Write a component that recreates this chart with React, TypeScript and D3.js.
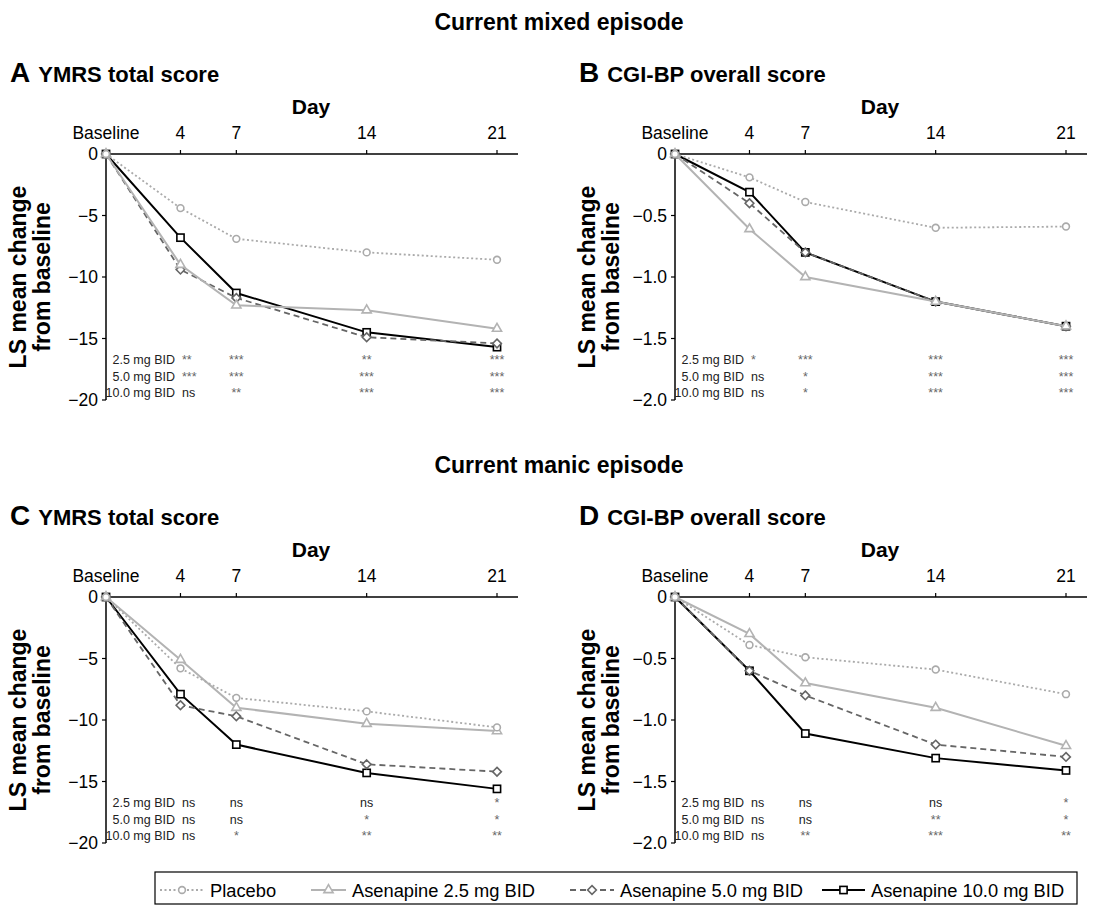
import * as d3 from "d3";

// days on the x axis, baseline = day 0
const days = [0, 4, 7, 14, 21];
const dayLabels = ["Baseline", "4", "7", "14", "21"];
const doseLabels = ["2.5 mg BID", "5.0 mg BID", "10.0 mg BID"];
const seriesNames = ["Placebo", "Asenapine 2.5 mg BID", "Asenapine 5.0 mg BID", "Asenapine 10.0 mg BID"];

// LS mean change, order: placebo, 2.5, 5.0, 10.0
const mixedYmrs = [
  [0, -4.4, -6.9, -8.0, -8.6],
  [0, -9.0, -12.3, -12.7, -14.2],
  [0, -9.4, -11.7, -14.9, -15.4],
  [0, -6.8, -11.3, -14.5, -15.7],
];
const mixedCgi = [
  [0, -0.19, -0.39, -0.6, -0.59],
  [0, -0.61, -1.0, -1.2, -1.4],
  [0, -0.4, -0.8, -1.2, -1.4],
  [0, -0.31, -0.8, -1.2, -1.4],
];
const manicYmrs = [
  [0, -5.8, -8.2, -9.3, -10.6],
  [0, -5.1, -9.0, -10.3, -10.9],
  [0, -8.8, -9.7, -13.6, -14.2],
  [0, -7.9, -12.0, -14.3, -15.6],
];
const manicCgi = [
  [0, -0.39, -0.49, -0.59, -0.79],
  [0, -0.3, -0.7, -0.9, -1.21],
  [0, -0.6, -0.8, -1.2, -1.3],
  [0, -0.6, -1.11, -1.31, -1.41],
];

// significance vs placebo at day 4, 7, 14, 21
const mixedYmrsSig = [
  ["**", "***", "**", "***"],
  ["***", "***", "***", "***"],
  ["ns", "**", "***", "***"],
];
const mixedCgiSig = [
  ["*", "***", "***", "***"],
  ["ns", "*", "***", "***"],
  ["ns", "*", "***", "***"],
];
const manicYmrsSig = [
  ["ns", "ns", "ns", "*"],
  ["ns", "ns", "*", "*"],
  ["ns", "*", "**", "**"],
];
const manicCgiSig = [
  ["ns", "ns", "ns", "*"],
  ["ns", "ns", "**", "*"],
  ["ns", "**", "***", "**"],
];

const ymrsTicks = [0, -5, -10, -15, -20];
const cgiTicks = [0, -0.5, -1.0, -1.5, -2.0];

const font = "'Liberation Sans', Arial, sans-serif";
const W = 1118;
const H = 905;
const plotW = 391;
const plotH = 246;

const styles = [
  { color: "#aaaaaa", dash: "2,2.5", width: 1.8, marker: "circle" },
  { color: "#b3b3b3", dash: null, width: 2, marker: "triangle" },
  { color: "#666666", dash: "6,4", width: 1.8, marker: "diamond" },
  { color: "#000000", dash: null, width: 2, marker: "square" },
];

const fmtMinus = (v: number, digits: number) =>
  (v < 0 ? "\u2212" : "") + Math.abs(v).toFixed(digits);

function Marker({ kind, x, y, color }: { kind: string; x: number; y: number; color: string }) {
  if (kind === "circle")
    return <circle cx={x} cy={y} r={3.4} fill="#fff" stroke={color} strokeWidth={1.6} />;
  if (kind === "square")
    return <rect x={x - 3.6} y={y - 3.6} width={7.2} height={7.2} fill="#fff" stroke={color} strokeWidth={1.6} />;
  const sym = kind === "triangle" ? d3.symbolTriangle2 : d3.symbolDiamond2;
  const d = d3.symbol(sym, kind === "triangle" ? 60 : 48)() as string;
  return <path d={d} transform={`translate(${x},${y})`} fill="#fff" stroke={color} strokeWidth={1.6} />;
}

function Series({ vals, s, x, y }: any) {
  const pts = days.map((d, i) => [x(d), y(vals[i])] as [number, number]);
  const line = d3.line();
  return (
    <g>
      <path d={line(pts) as string} fill="none" stroke={s.color} strokeWidth={s.width}
        strokeDasharray={s.dash || undefined} />
      {pts.map((p, i) => (
        <Marker key={i} kind={s.marker} x={p[0]} y={p[1]} color={s.color} />
      ))}
    </g>
  );
}

function Panel({ x0, y0, letter, title, data, sig, ticks, digits }: any) {
  const x = d3.scaleLinear().domain([0, 21]).range([x0, x0 + plotW]);
  const y = d3.scaleLinear().domain([0, ticks[ticks.length - 1]]).range([y0, y0 + plotH]);
  const order = [3, 2, 1, 0];
  const sigCols = [7, 14, 21];
  return (
    <g fontFamily={font}>
      <text x={x0 - 96} y={y0 - 72} fontWeight="bold" fontSize={28}>
        {letter}
        <tspan dx={8} fontSize={22}>{title}</tspan>
      </text>
      <text x={x0 + 205} y={y0 - 40} textAnchor="middle" fontWeight="bold" fontSize={21}>Day</text>
      {days.map((d, i) => (
        <g key={i}>
          <line x1={x(d)} x2={x(d)} y1={y0} y2={y0 - 4} stroke="#000" strokeWidth={1.2} />
          <text x={x(d)} y={y0 - 15} textAnchor="middle" fontSize={17.5}>{dayLabels[i]}</text>
        </g>
      ))}
      <line x1={x0} x2={x0 + 412} y1={y0} y2={y0} stroke="#000" strokeWidth={1.5} />
      <line x1={x0} x2={x0} y1={y0} y2={y0 + plotH} stroke="#000" strokeWidth={1.5} />
      {ticks.map((t: number, i: number) => (
        <g key={i}>
          <line x1={x0 - 4} x2={x0} y1={y(t)} y2={y(t)} stroke="#000" strokeWidth={1.2} />
          <text x={x0 - 8} y={y(t) + 6} textAnchor="end" fontSize={17.5}>
            {t === 0 ? "0" : fmtMinus(t, digits)}
          </text>
        </g>
      ))}
      <text transform={`translate(${x0 - 80},${y0 + 123}) rotate(-90)`} textAnchor="middle"
        fontWeight="bold" fontSize={23}>LS mean change</text>
      <text transform={`translate(${x0 - 56},${y0 + 123}) rotate(-90)`} textAnchor="middle"
        fontWeight="bold" fontSize={23}>from baseline</text>
      {order.map((k) => (
        <Series key={k} vals={data[k]} s={styles[k]} x={x} y={y} />
      ))}
      {doseLabels.map((lab, r) => {
        const ry = y0 + 210 + r * 16.5;
        return (
          <g key={r} fontSize={12.5}>
            <text x={x0 + 69} y={ry} textAnchor="end" fill="#222">{lab}</text>
            <text x={x0 + 76} y={ry} fill={sig[r][0] === "ns" ? "#222" : "#666"}>{sig[r][0]}</text>
            {sigCols.map((c, j) => (
              <text key={j} x={x(c)} y={ry} textAnchor="middle"
                fill={sig[r][j + 1] === "ns" ? "#222" : "#666"}>{sig[r][j + 1]}</text>
            ))}
          </g>
        );
      })}
    </g>
  );
}

function Legend() {
  const items = [
    { lx: 160, tx: 210 },
    { lx: 311, tx: 352 },
    { lx: 570, tx: 620 },
    { lx: 822, tx: 871 },
  ];
  const ly = 890;
  return (
    <g fontFamily={font}>
      <rect x={155} y={872} width={922} height={32} fill="none" stroke="#000" strokeWidth={1.2} />
      {items.map((it, i) => {
        const s = styles[i];
        const len = it.tx - it.lx - 6;
        return (
          <g key={i}>
            <line x1={it.lx} x2={it.lx + len} y1={ly} y2={ly} stroke={s.color} strokeWidth={s.width}
              strokeDasharray={s.dash || undefined} />
            <Marker kind={s.marker} x={it.lx + len / 2} y={ly} color={s.color} />
            <text x={it.tx} y={ly + 6.5} fontSize={18.3}>{seriesNames[i]}</text>
          </g>
        );
      })}
    </g>
  );
}

export default function App() {
  return (
    <div style={{ position: "absolute", left: 0, top: 0 }}>
      <svg width={W} height={H} style={{ display: "block", background: "#fff" }}>
        <text x={559} y={30} textAnchor="middle" fontFamily={font} fontWeight="bold" fontSize={23}>
          Current mixed episode
        </text>
        <text x={559} y={473} textAnchor="middle" fontFamily={font} fontWeight="bold" fontSize={23}>
          Current manic episode
        </text>
        <Panel x0={106} y0={154} letter="A" title="YMRS total score" data={mixedYmrs}
          sig={mixedYmrsSig} ticks={ymrsTicks} digits={0} />
        <Panel x0={675} y0={154} letter="B" title="CGI-BP overall score" data={mixedCgi}
          sig={mixedCgiSig} ticks={cgiTicks} digits={1} />
        <Panel x0={106} y0={597} letter="C" title="YMRS total score" data={manicYmrs}
          sig={manicYmrsSig} ticks={ymrsTicks} digits={0} />
        <Panel x0={675} y0={597} letter="D" title="CGI-BP overall score" data={manicCgi}
          sig={manicCgiSig} ticks={cgiTicks} digits={1} />
        <Legend />
      </svg>
    </div>
  );
}
